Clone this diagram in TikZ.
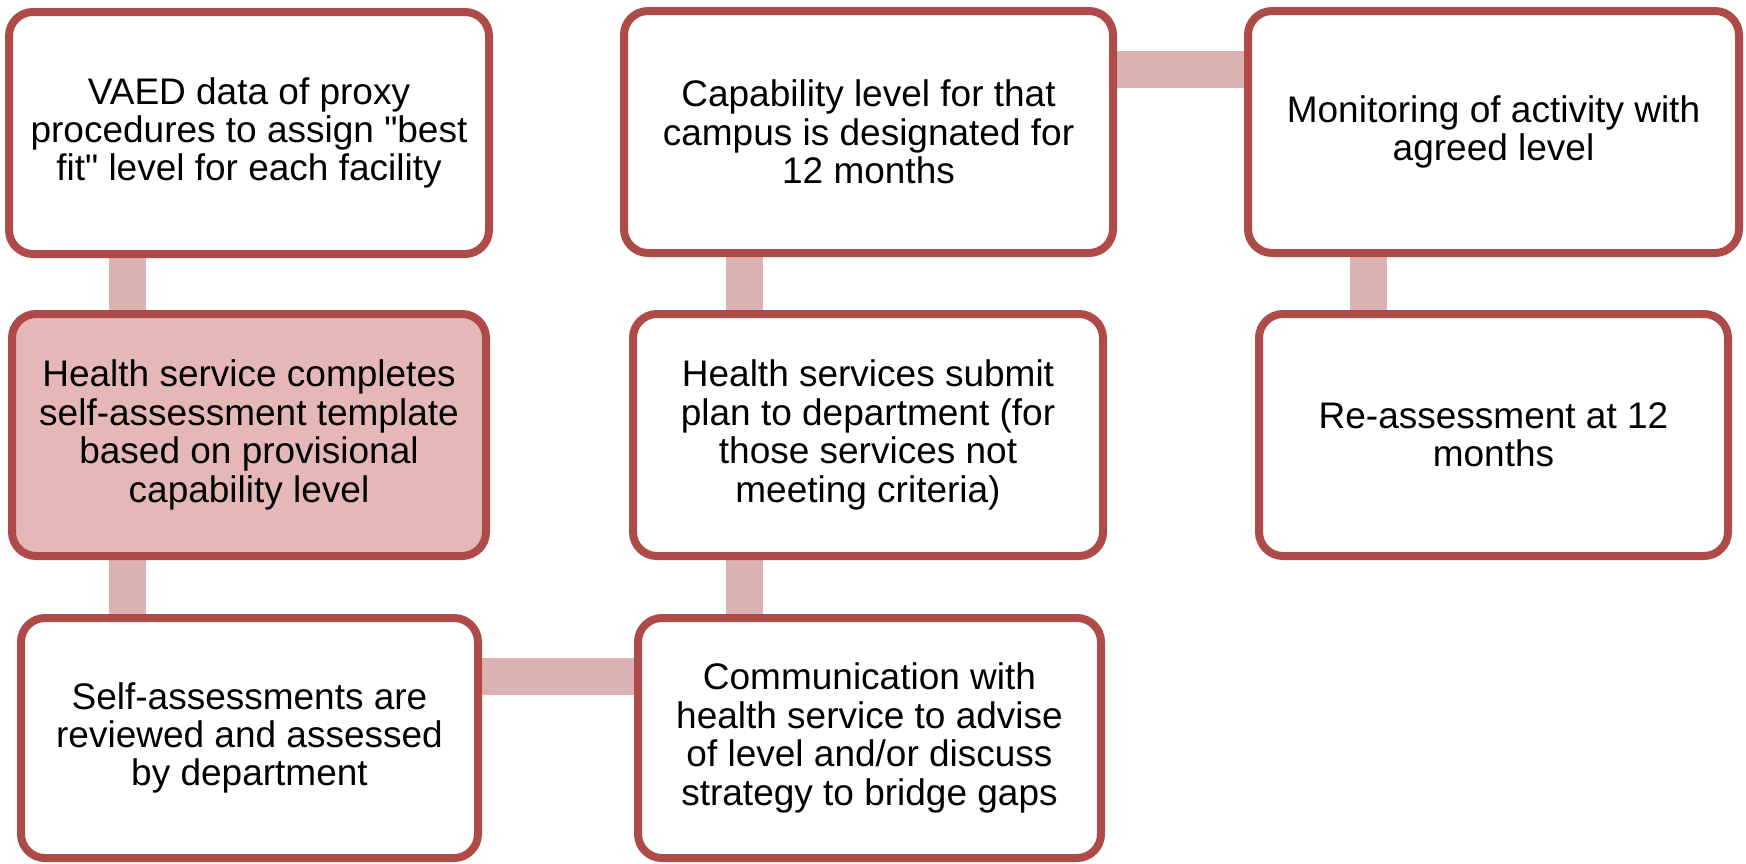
\documentclass[tikz,border=0pt]{standalone}
\usepackage{fontspec}
\setmainfont{Liberation Sans}
\usepackage{tikz}
\usetikzlibrary{positioning,calc,backgrounds,shadows}
\definecolor{stageline}{HTML}{AE4B48}
\definecolor{stagepink}{HTML}{E5B8B7}
\definecolor{linkpink}{HTML}{DBB1B2}

\begin{document}
\begin{tikzpicture}[x=0.5pt,y=-0.5pt,
  stage/.style={draw=stageline,line width=4pt,fill=white,rounded corners=12pt,
    align=center,inner sep=0pt,minimum height=121pt,
    font=\fontsize{18.5}{19.2}\selectfont,
    drop shadow={shadow xshift=0.8pt,shadow yshift=-1.2pt,opacity=0.18}},
  link/.style={draw=linkpink,line width=18.5pt}]
%%Location
\useasboundingbox (0,0) rectangle (1746,863);
%%Left column
\node[stage,minimum width=240pt] (vaed) at (249,133)
  {VAED data of proxy\\procedures to assign \textquotedbl best\\fit\textquotedbl\ level for each facility};
\node[stage,fill=stagepink,minimum width=237pt] (self) at (249,435)
  {Health service completes\\self-assessment template\\based on provisional\\capability level};
\node[stage,minimum width=228.5pt,minimum height=120pt] (review) at (249.5,738)
  {Self-assessments are\\reviewed and assessed\\by department};
%%Middle column
\node[stage,minimum width=231.5pt,minimum height=120pt] (comms) at (869.5,738)
  {Communication with\\health service to advise\\of level and/or discuss\\strategy to bridge gaps};
\node[stage,minimum width=235pt] (submit) at (868,435)
  {Health services submit\\plan to department (for\\those services not\\meeting criteria)};
\node[stage,minimum width=244.5pt] (capab) at (868.5,132)
  {Capability level for that\\campus is designated for\\12 months};
%%Right column
\node[stage,minimum width=245.5pt] (monitor) at (1493.5,132)
  {Monitoring of activity with\\agreed level};
\node[stage,minimum width=234.5pt] (reassess) at (1493.5,435)
  {Re-assessment at 12\\months};

%%Links
\begin{pgfonlayer}{background}
\coordinate (a) at ($(vaed.south west)!0.25!(vaed.south east)$);
\draw[link] (a) -- (a |- self.north);
\draw[link] (a |- self.south) -- (a |- review.north);
\coordinate (b) at ($(review.north east)!0.25!(review.south east)$);
\draw[link] (b) -- (b -| comms.west);
\coordinate (c) at ($(capab.south west)!0.25!(capab.south east)$);
\draw[link] (c |- comms.north) -- (c |- submit.south);
\draw[link] (c |- submit.north) -- (c);
\coordinate (d) at ($(capab.north east)!0.25!(capab.south east)$);
\draw[link] (d) -- (d -| monitor.west);
\coordinate (e) at ($(monitor.south west)!0.25!(monitor.south east)$);
\draw[link] (e) -- (e |- reassess.north);
\end{pgfonlayer}
\end{tikzpicture}
\end{document}
